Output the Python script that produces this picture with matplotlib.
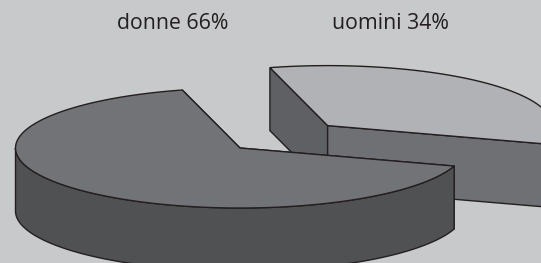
import numpy as np
import matplotlib.pyplot as plt
from matplotlib.patches import Polygon

# data
labels = ['uomini', 'donne']
values = [34, 66]

# colours (top, wall, cut faces)
top_col = {'uomini': '#b1b2b5', 'donne': '#727377'}
wall_col = {'uomini': '#6f7073', 'donne': '#505153'}
cut_col = {'uomini': '#6f7073', 'donne': '#505153'}
edge = '#231f20'
bg = '#c8c9cb'

# layout of the 3d pie (pixels)
cx0, cy0 = 240, 148
rx, ry, h = 224.5, 60, 63
start = -17.5
explode = {'uomini': 0.54, 'donne': 0.0}


def pt(cx, cy, t, dz=0.0):
    t = np.radians(t)
    return cx + rx * np.cos(t), cy - ry * np.sin(t) + dz


def draw_slice(ax, cx, cy, a1, a2, name):
    # radial cut faces, the ones facing away first
    faces = [(np.sin(np.radians(a1 - 90)), a1), (np.sin(np.radians(a2 + 90)), a2)]
    faces.sort(key=lambda f: -f[0])
    for s, a in faces:
        col = cut_col[name]
        if name == 'uomini' and a == a2:
            col = '#5f6063'
        quad = [(cx, cy), pt(cx, cy, a), pt(cx, cy, a, h), (cx, cy + h)]
        ax.add_patch(Polygon(quad, closed=True, fc=col, ec=edge, lw=1.0))

    # outer wall, only the front half
    for k in range(-1, 3):
        lo = max(a1, 180 + 360 * k)
        hi = min(a2, 360 + 360 * k)
        if hi <= lo:
            continue
        t = np.linspace(lo, hi, 200)
        top = [pt(cx, cy, v) for v in t]
        bot = [pt(cx, cy, v, h) for v in t[::-1]]
        ax.add_patch(Polygon(top + bot, closed=True, fc=wall_col[name], ec=edge, lw=1.0))

    # top face
    t = np.linspace(a1, a2, 300)
    pts = [(cx, cy)] + [pt(cx, cy, v) for v in t]
    ax.add_patch(Polygon(pts, closed=True, fc=top_col[name], ec=edge, lw=1.0))


fig = plt.figure(figsize=(5.41, 2.63), dpi=100, facecolor=bg)
ax = fig.add_axes([0, 0, 1, 1])
ax.set_facecolor(bg)
ax.set_xlim(0, 541)
ax.set_ylim(263, 0)
ax.axis('off')

total = sum(values)
angles = np.cumsum([0] + [v / total * 360 for v in values]) + start
for i, name in enumerate(labels):
    a1, a2 = angles[i], angles[i + 1]
    mid = np.radians((a1 + a2) / 2)
    d = explode[name]
    cx = cx0 + d * rx * np.cos(mid)
    cy = cy0 - d * ry * np.sin(mid)
    draw_slice(ax, cx, cy, a1, a2, name)

# labels on top
ax.text(173, 29, 'donne %d%%' % values[1], ha='center', va='baseline',
        fontsize=15.3, family='Open Sans', color=edge)
ax.text(390, 29, 'uomini %d%%' % values[0], ha='center', va='baseline',
        fontsize=15.3, family='Open Sans', color=edge)

plt.savefig('out.png', dpi=100, facecolor=bg)
